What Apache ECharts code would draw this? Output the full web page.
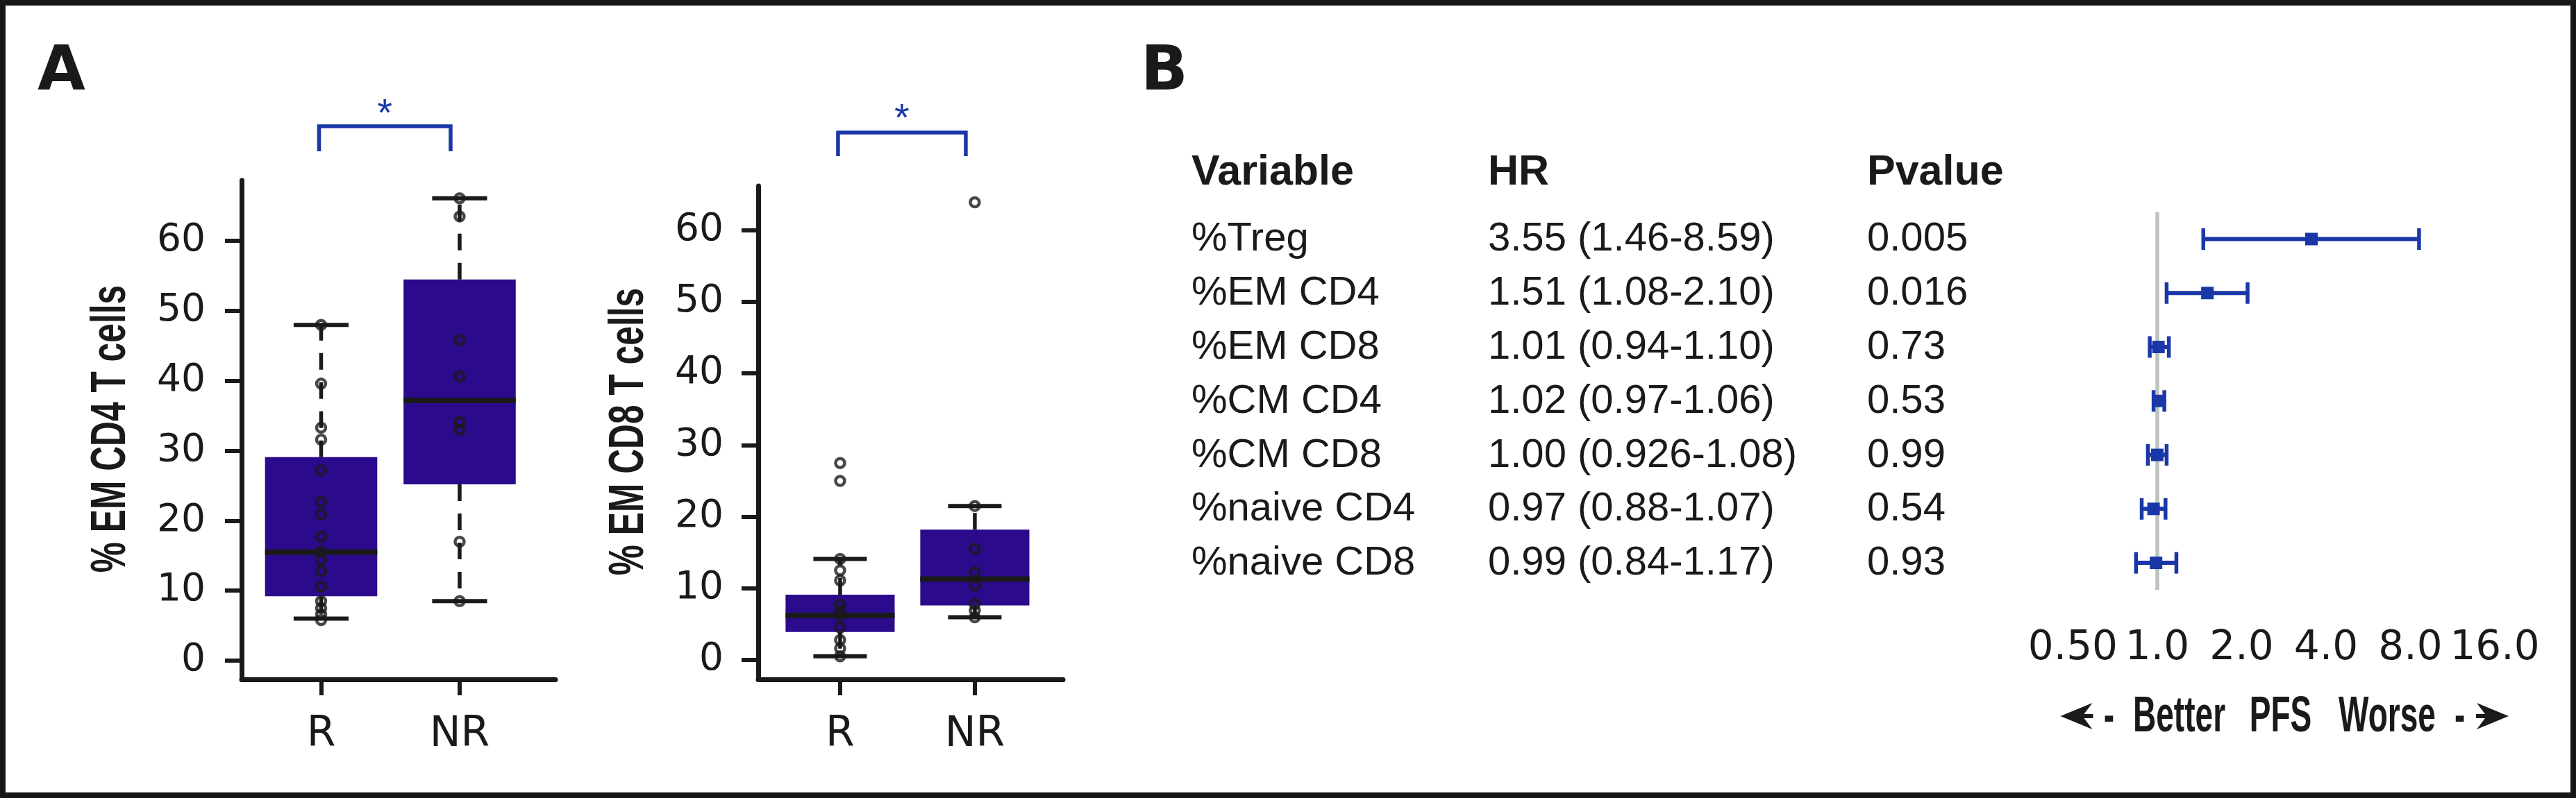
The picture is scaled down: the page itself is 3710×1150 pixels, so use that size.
<!DOCTYPE html>
<html><head><meta charset="utf-8">
<script src="https://cdn.jsdelivr.net/npm/echarts@6/dist/echarts.min.js"></script>
<style>html,body{margin:0;padding:0;background:#fff}#c{width:3710px;height:1150px}</style>
</head><body><div id="c"></div>
<script>
// ---------- data ----------
const groups = ['R', 'NR'];
const yTicks = [0, 10, 20, 30, 40, 50, 60];
// box stats: [low whisker, q1, median, q3, high whisker]
const cd4BoxR = [6.0, 9.2, 15.5, 29.1, 48.0];
const cd4BoxNR = [8.5, 25.2, 37.2, 54.5, 66.1];
const cd4PointsR = [48.0, 39.6, 33.3, 31.6, 27.2, 22.7, 20.9, 17.7, 15.6, 14.4, 12.8, 10.6, 8.5, 7.5, 6.6, 5.8];
const cd4PointsNR = [66.1, 63.5, 45.8, 40.6, 34.1, 33.0, 17.0, 8.5];
const cd8BoxR = [0.5, 3.9, 6.2, 9.1, 14.1];
const cd8BoxNR = [5.95, 7.6, 11.3, 18.2, 21.5];
const cd8PointsR = [27.5, 25.0, 14.1, 12.5, 11.1, 7.7, 6.9, 6.2, 4.5, 2.8, 1.6, 0.5];
const cd8PointsNR = [63.9, 21.5, 15.5, 12.2, 10.4, 7.8, 6.9, 5.95];

const variables = ['%Treg', '%EM CD4', '%EM CD8', '%CM CD4', '%CM CD8', '%naive CD4', '%naive CD8'];
const hr = [3.55, 1.51, 1.01, 1.02, 1.00, 0.97, 0.99];
const hrLow = [1.46, 1.08, 0.94, 0.97, 0.926, 0.88, 0.84];
const hrHigh = [8.59, 2.10, 1.10, 1.06, 1.08, 1.07, 1.17];
const hrText = ['3.55 (1.46-8.59)', '1.51 (1.08-2.10)', '1.01 (0.94-1.10)', '1.02 (0.97-1.06)', '1.00 (0.926-1.08)', '0.97 (0.88-1.07)', '0.99 (0.84-1.17)'];
const pValues = ['0.005', '0.016', '0.73', '0.53', '0.99', '0.54', '0.93'];
const headers = ['Variable', 'HR', 'Pvalue'];
const forestTicks = [0.5, 1, 2, 4, 6, 8, 16];
const forestLabelValues = [0.5, 1, 2, 4, 8, 16];
const forestLabels = ['0.50', '1.0', '2.0', '4.0', '8.0', '16.0'];
const yTitles = ['% EM CD4 T cells', '% EM CD8 T cells'];
const captionWords = ['-', 'Better', 'PFS', 'Worse', '-'];

// ---------- style ----------
const INK = '#1a1a1a', BOX = '#2b0a8c', BLUE = '#1a37a8', GREY = '#bcc3bf';
const numFont = 'DejaVu Sans';
const sans = '"Liberation Sans", Arial, sans-serif';

function boxRender(params, api) {
  const x = api.value(0);
  const low = api.coord([x, api.value(1)]);
  const q1 = api.coord([x, api.value(2)]);
  const med = api.coord([x, api.value(3)]);
  const q3 = api.coord([x, api.value(4)]);
  const high = api.coord([x, api.value(5)]);
  const half = api.size([0.81, 0])[0] / 2;
  const cap = half * 0.49;
  const cx = med[0];
  const dashStyle = { stroke: INK, lineWidth: 5.5, lineDash: [24, 18] };
  return { type: 'group', children: [
    { type: 'line', shape: { x1: cx, y1: q3[1], x2: cx, y2: high[1] }, style: dashStyle },
    { type: 'line', shape: { x1: cx, y1: q1[1], x2: cx, y2: low[1] }, style: dashStyle },
    { type: 'rect', shape: { x: cx - half, y: q3[1], width: 2 * half, height: q1[1] - q3[1] }, style: { fill: BOX } },
    { type: 'line', shape: { x1: cx - cap, y1: high[1], x2: cx + cap, y2: high[1] }, style: { stroke: INK, lineWidth: 6 } },
    { type: 'line', shape: { x1: cx - cap, y1: low[1], x2: cx + cap, y2: low[1] }, style: { stroke: INK, lineWidth: 6 } },
    { type: 'line', shape: { x1: cx - half, y1: med[1], x2: cx + half, y2: med[1] }, style: { stroke: INK, lineWidth: 8 } }
  ]};
}

function forestRender(params, api) {
  const row = api.value(1);
  const c = api.coord([api.value(0), row]);
  const l = api.coord([api.value(2), row]);
  const h = api.coord([api.value(3), row]);
  const capH = 15.5, sq = 9;
  return { type: 'group', children: [
    { type: 'line', shape: { x1: l[0], y1: c[1], x2: h[0], y2: c[1] }, style: { stroke: BLUE, lineWidth: 6 } },
    { type: 'line', shape: { x1: l[0], y1: c[1] - capH, x2: l[0], y2: c[1] + capH }, style: { stroke: BLUE, lineWidth: 5.5 } },
    { type: 'line', shape: { x1: h[0], y1: c[1] - capH, x2: h[0], y2: c[1] + capH }, style: { stroke: BLUE, lineWidth: 5.5 } },
    { type: 'rect', shape: { x: c[0] - sq, y: c[1] - sq, width: 2 * sq, height: 2 * sq }, style: { fill: BLUE } }
  ]};
}

function boxXAxis(gi, min, max) {
  return {
    gridIndex: gi, type: 'value', min: min, max: max,
    axisLine: { onZero: false, lineStyle: { color: INK, width: 7 } },
    axisTick: { customValues: [1, 2], length: 23, lineStyle: { color: INK, width: 6 } },
    axisLabel: { customValues: [1, 2], formatter: v => groups[Math.round(v) - 1], fontFamily: numFont, fontSize: 60, color: INK, margin: 50 },
    splitLine: { show: false }
  };
}
function boxYAxis(gi, min, max, margin) {
  return {
    gridIndex: gi, type: 'value', min: min, max: max,
    axisLine: { onZero: false, lineStyle: { color: INK, width: 7 } },
    axisTick: { customValues: yTicks, length: 24, lineStyle: { color: INK, width: 6 } },
    axisLabel: { customValues: yTicks, fontFamily: numFont, fontSize: 55, color: INK, margin: margin },
    splitLine: { show: false }
  };
}
function pointSeries(xi, yi, xPos, vals) {
  return {
    type: 'scatter', xAxisIndex: xi, yAxisIndex: yi, z: 5,
    data: vals.map(v => [xPos, v]), symbol: 'circle', symbolSize: 13,
    itemStyle: { color: 'rgba(0,0,0,0)', borderColor: INK, borderWidth: 4.5 },
    silent: true
  };
}

const chart = echarts.init(document.getElementById('c'), null, { renderer: 'canvas' });
chart.setOption({
  animation: false,
  backgroundColor: '#fff',
  grid: [
    { left: 348, top: 260, width: 452, height: 719 },
    { left: 1092, top: 268, width: 439, height: 711 },
    { left: 2962, top: 305.6, width: 655, height: 544.4 }
  ],
  xAxis: [
    boxXAxis(0, 0.426, 2.692),
    boxXAxis(1, 0.392, 2.655),
    {
      gridIndex: 2, type: 'log', logBase: 2, min: 0.4375, max: 18.35,
      axisLine: { onZero: false, lineStyle: { color: INK, width: 8 } },
      axisTick: { customValues: forestTicks, length: 25, lineStyle: { color: INK, width: 6.5 } },
      axisLabel: {
        customValues: forestLabelValues,
        formatter: v => {
          let best = 0;
          forestLabelValues.forEach((t, i) => { if (Math.abs(Math.log(t) - Math.log(v)) < Math.abs(Math.log(forestLabelValues[best]) - Math.log(v))) best = i; });
          return forestLabels[best];
        },
        fontFamily: numFont, fontSize: 58, color: INK, margin: 56
      },
      splitLine: { show: false }
    }
  ],
  yAxis: [
    boxYAxis(0, -2.68, 68.65, 52),
    boxYAxis(1, -2.71, 66.18, 50),
    { gridIndex: 2, type: 'category', data: variables, inverse: true, show: false }
  ],
  series: [
    { type: 'custom', xAxisIndex: 0, yAxisIndex: 0, renderItem: boxRender, z: 2,
      encode: { x: 0, y: [1, 2, 3, 4, 5] },
      data: [[1].concat(cd4BoxR), [2].concat(cd4BoxNR)] },
    pointSeries(0, 0, 1, cd4PointsR),
    pointSeries(0, 0, 2, cd4PointsNR),
    { type: 'custom', xAxisIndex: 1, yAxisIndex: 1, renderItem: boxRender, z: 2,
      encode: { x: 0, y: [1, 2, 3, 4, 5] },
      data: [[1].concat(cd8BoxR), [2].concat(cd8BoxNR)] },
    pointSeries(1, 1, 1, cd8PointsR),
    pointSeries(1, 1, 2, cd8PointsNR),
    { type: 'scatter', xAxisIndex: 2, yAxisIndex: 2, z: 1, data: [], silent: true,
      markLine: { silent: true, symbol: 'none', label: { show: false },
        lineStyle: { color: GREY, width: 5.5, type: 'solid' }, data: [{ xAxis: 1 }] } },
    { type: 'custom', xAxisIndex: 2, yAxisIndex: 2, renderItem: forestRender, z: 5,
      encode: { x: [0, 2, 3], y: 1 },
      data: hr.map((v, i) => [v, i, hrLow[i], hrHigh[i]]) }
  ]
});

// ---------- annotations & table text ----------
const g = [];
g.push({ type: 'rect', shape: { x: 4, y: 4, width: 3702, height: 1142 }, style: { fill: 'none', stroke: '#171717', lineWidth: 8 }, z: 100 });
g.push({ type: 'text', x: 54, y: 106, style: { text: 'A', font: 'bold 89px "DejaVu Sans"', fill: INK, textAlign: 'left', textVerticalAlign: 'middle' } });
g.push({ type: 'text', x: 1643, y: 106, style: { text: 'B', font: 'bold 89px "DejaVu Sans"', fill: INK, textAlign: 'left', textVerticalAlign: 'middle' } });

// y titles (condensed look via horizontal scale of the text)
[[161, 618], [907, 622]].forEach((p, i) => {
  g.push({ type: 'text', x: p[0], y: p[1], rotation: Math.PI / 2, scaleX: 0.71,
    style: { text: yTitles[i], font: 'bold 70px ' + sans, fill: INK, textAlign: 'center', textVerticalAlign: 'middle' } });
});

// significance brackets
[[0, 182, 218, 154], [1, 191, 225, 161]].forEach(b => {
  const xl = chart.convertToPixel({ gridIndex: b[0] }, [1, 0])[0] - 3;
  const xr = chart.convertToPixel({ gridIndex: b[0] }, [2, 0])[0] - 13;
  g.push({ type: 'polyline', shape: { points: [[xl, b[2]], [xl, b[1]], [xr, b[1]], [xr, b[2]]] },
    style: { stroke: BLUE, lineWidth: 5.5, fill: 'none' } });
  g.push({ type: 'text', x: (xl + xr) / 2, y: b[3] + 12,
    style: { text: '*', font: '56px ' + sans, fill: BLUE, textAlign: 'center', textVerticalAlign: 'middle' } });
});

// table
const colX = [1716, 2143, 2689];
headers.forEach((h, i) => {
  g.push({ type: 'text', x: colX[i], y: 249, style: { text: h, font: 'bold 61px ' + sans, fill: INK, textAlign: 'left', textVerticalAlign: 'middle' } });
});
variables.forEach((v, i) => {
  const y = chart.convertToPixel({ gridIndex: 2 }, [1, i])[1];
  [v, hrText[i], pValues[i]].forEach((t, j) => {
    g.push({ type: 'text', x: colX[j], y: y + 1, style: { text: t, font: '58px ' + sans, fill: INK, textAlign: 'left', textVerticalAlign: 'middle' } });
  });
});

// caption under forest axis
const capX = [3037.5, 3138.5, 3284.5, 3438, 3542.6];
captionWords.forEach((w, i) => {
  g.push({ type: 'text', x: capX[i], y: 1034, scaleX: 0.64,
    style: { text: w, font: 'bold 72px ' + sans, fill: INK, textAlign: 'center', textVerticalAlign: 'middle' } });
});
g.push({ type: 'polygon', shape: { points: [[3613, 1032], [3567, 1013], [3579, 1029], [3566, 1029], [3566, 1035], [3579, 1035], [3567, 1051]] }, style: { fill: INK } });
g.push({ type: 'polygon', shape: { points: [[2967.5, 1032], [3013.5, 1013], [3001.5, 1029], [3014.5, 1029], [3014.5, 1035], [3001.5, 1035], [3013.5, 1051]] }, style: { fill: INK } });

chart.setOption({ graphic: { elements: g } });
</script>
</body></html>
